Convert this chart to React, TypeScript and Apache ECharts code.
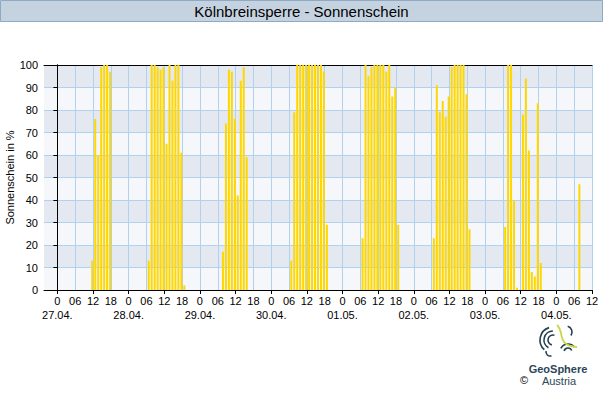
import React, { useEffect, useRef } from 'react';
import * as echarts from 'echarts';

const FONT = '"Liberation Sans", Arial, Helvetica, sans-serif';

// x axis: hours relative to 27.04. 00:00
const dateLabels = ['27.04.', '28.04.', '29.04.', '30.04.', '01.05.', '02.05.', '03.05.', '04.05.'];
const hourLabels = ['0', '06', '12', '18'];
const X_MIN = -4.5;
const X_MAX = 180;

// first hour with a bar for each day, then hourly sunshine in %
const firstHour = [12, 7, 8, 7, 7, 7, 7, 8];
const sun_27_04 = [13, 76, 60, 99, 100, 100, 97];
const sun_28_04 = [13, 100, 100, 99, 98, 99, 65, 100, 93, 100, 100, 61, 2];
const sun_29_04 = [17, 74, 98, 97, 76, 42, 93, 99, 59];
const sun_30_04 = [13, 79, 100, 100, 100, 100, 100, 100, 100, 100, 100, 97, 29];
const sun_01_05 = [23, 100, 95, 99, 100, 100, 100, 100, 97, 100, 86, 90, 29];
const sun_02_05 = [23, 91, 79, 84, 77, 86, 99, 100, 100, 100, 100, 87, 27];
const sun_03_05 = [28, 100, 100, 40, 1, 0, 78, 94, 62, 8, 6, 83, 12];
const sun_04_05 = [47];

const days = [sun_27_04, sun_28_04, sun_29_04, sun_30_04, sun_01_05, sun_02_05, sun_03_05, sun_04_05];

export default function App() {
  const ref = useRef<HTMLDivElement>(null);

  useEffect(() => {
    document.body.style.margin = '0';
    if (!ref.current) return;
    const chart = echarts.init(ref.current, undefined, { renderer: 'svg' });

    const barData: number[][] = [];
    days.forEach((vals, d) => {
      vals.forEach((v, i) => {
        barData.push([d * 24 + firstHour[d] + i - 0.25, v]);
      });
    });

    const labelValues: number[] = [];
    for (let d = 0; d < dateLabels.length; d++) {
      for (let k = 0; k < hourLabels.length; k++) {
        const v = d * 24 + k * 6;
        if (v <= X_MAX) labelValues.push(v);
      }
    }
    const tickValues = labelValues.filter((v) => v % 12 === 0);
    const dayValues = dateLabels.map((_, d) => d * 24);

    const hourFmt = (value: number) => {
      const v = Math.round(value);
      const h = ((v % 24) + 24) % 24;
      return hourLabels[Math.round(h / 6)];
    };
    const dateFmt = (value: number) => dateLabels[Math.round(value / 24)] ?? '';

    const black = { color: '#000', width: 1 };
    const gridBlue = '#b0d2ee';
    const teal = '#22404f';

    const arcStyle = { stroke: teal, lineWidth: 1.6, fill: 'none' };

    chart.setOption({
      animation: false,
      textStyle: { fontFamily: FONT },
      grid: { left: 44, right: 11, top: 65, bottom: 110, containLabel: false, outerBoundsMode: 'none' },
      xAxis: [
        {
          type: 'value',
          min: X_MIN,
          max: X_MAX,
          position: 'bottom',
          axisLine: { show: true, onZero: false, lineStyle: black },
          axisTick: { show: true, length: 4, customValues: tickValues, lineStyle: black },
          axisLabel: {
            show: true,
            customValues: labelValues,
            formatter: hourFmt,
            fontSize: 11,
            color: '#000',
            margin: 5,
            fontFamily: FONT,
            hideOverlap: false,
            showMinLabel: true,
            showMaxLabel: true,
          },
          splitLine: { show: false },
        },
        {
          type: 'value',
          min: X_MIN,
          max: X_MAX,
          position: 'top',
          axisLine: { show: true, onZero: false, lineStyle: black },
          axisTick: { show: false, customValues: labelValues },
          axisLabel: { show: false },
          splitLine: { show: true, lineStyle: { color: gridBlue, width: 1 } },
        },
        {
          type: 'value',
          min: X_MIN,
          max: X_MAX,
          position: 'bottom',
          offset: 0,
          axisLine: { show: false, onZero: false },
          axisTick: { show: false, customValues: dayValues },
          axisLabel: {
            show: true,
            customValues: dayValues,
            formatter: dateFmt,
            fontSize: 11,
            color: '#000',
            margin: 19,
            fontFamily: FONT,
            hideOverlap: false,
            showMinLabel: true,
            showMaxLabel: true,
          },
          splitLine: { show: false },
        },
      ],
      yAxis: [
        {
          type: 'value',
          min: 0,
          max: 100,
          interval: 10,
          position: 'left',
          name: 'Sonnenschein in %',
          nameLocation: 'middle',
          nameGap: 29,
          nameMoveOverlap: false,
          nameTextStyle: { fontSize: 11, color: '#000', fontFamily: FONT },
          axisLine: { show: true, lineStyle: black },
          axisTick: { show: true, length: 4, lineStyle: black },
          axisLabel: { fontSize: 11, color: '#000', margin: 6, fontFamily: FONT },
          splitLine: { show: true, lineStyle: { color: gridBlue, width: 1 } },
          splitArea: { show: true, areaStyle: { color: ['#f5f7fa', '#e4e9f1'] } },
        },
        {
          type: 'value',
          min: 0,
          max: 100,
          interval: 10,
          position: 'right',
          z: 3,
          axisLine: { show: true, lineStyle: black },
          axisTick: { show: false },
          axisLabel: { show: false },
          splitLine: { show: false },
        },
      ],
      series: [
        {
          type: 'bar',
          xAxisIndex: 0,
          yAxisIndex: 0,
          data: barData,
          barWidth: 2,
          itemStyle: { color: '#ffd700' },
          silent: true,
        },
      ],
      graphic: [
        {
          type: 'rect',
          shape: { x: 0.5, y: 0.5, width: 602, height: 21 },
          style: { fill: '#c5d3e1', stroke: '#8fa9c5', lineWidth: 1 },
          silent: true,
        },
        {
          type: 'text',
          x: 301.5,
          y: 11.5,
          style: {
            text: 'Kölnbreinsperre - Sonnenschein',
            font: `15px ${FONT}`,
            fill: '#000',
            align: 'center',
            verticalAlign: 'middle',
            textAlign: 'center',
            textVerticalAlign: 'middle',
          },
        },
        // logo swirl
        { type: 'arc', shape: { cx: 553, cy: 340, r: 13, startAngle: 2.3, endAngle: 4.4 }, style: arcStyle },
        { type: 'arc', shape: { cx: 553, cy: 340, r: 9, startAngle: 2.1, endAngle: 4.7 }, style: arcStyle },
        { type: 'arc', shape: { cx: 553, cy: 340, r: 5, startAngle: 1.8, endAngle: 5.0 }, style: arcStyle },
        { type: 'arc', shape: { cx: 568, cy: 352, r: 8, startAngle: 3.6, endAngle: 5.6 }, style: arcStyle },
        { type: 'arc', shape: { cx: 568, cy: 352, r: 4, startAngle: 3.4, endAngle: 5.9 }, style: arcStyle },
        { type: 'arc', shape: { cx: 566, cy: 332, r: 6, startAngle: 5.0, endAngle: 6.9 }, style: arcStyle },
        { type: 'arc', shape: { cx: 550, cy: 352, r: 4, startAngle: 1.2, endAngle: 3.4 }, style: arcStyle },
        {
          type: 'bezierCurve',
          shape: { x1: 557, y1: 325, x2: 577, y2: 347, cpx1: 565, cpy1: 332, cpx2: 556, cpy2: 346 },
          style: { stroke: '#c5d847', lineWidth: 1.8, fill: 'none' },
        },
        {
          type: 'text',
          x: 558,
          y: 369,
          style: {
            text: 'GeoSphere',
            font: `bold 11px ${FONT}`,
            fill: '#2b4657',
            align: 'center',
            verticalAlign: 'middle',
            textAlign: 'center',
            textVerticalAlign: 'middle',
          },
        },
        {
          type: 'text',
          x: 559,
          y: 381,
          style: {
            text: 'Austria',
            font: `11px ${FONT}`,
            fill: '#2b4657',
            align: 'center',
            verticalAlign: 'middle',
            textAlign: 'center',
            textVerticalAlign: 'middle',
          },
        },
        {
          type: 'text',
          x: 524,
          y: 380,
          style: {
            text: '©',
            font: `11px ${FONT}`,
            fill: '#000',
            align: 'center',
            verticalAlign: 'middle',
            textAlign: 'center',
            textVerticalAlign: 'middle',
          },
        },
      ],
    });

    return () => {
      chart.dispose();
    };
  }, []);

  return <div ref={ref} style={{ width: 603, height: 400 }} />;
}
